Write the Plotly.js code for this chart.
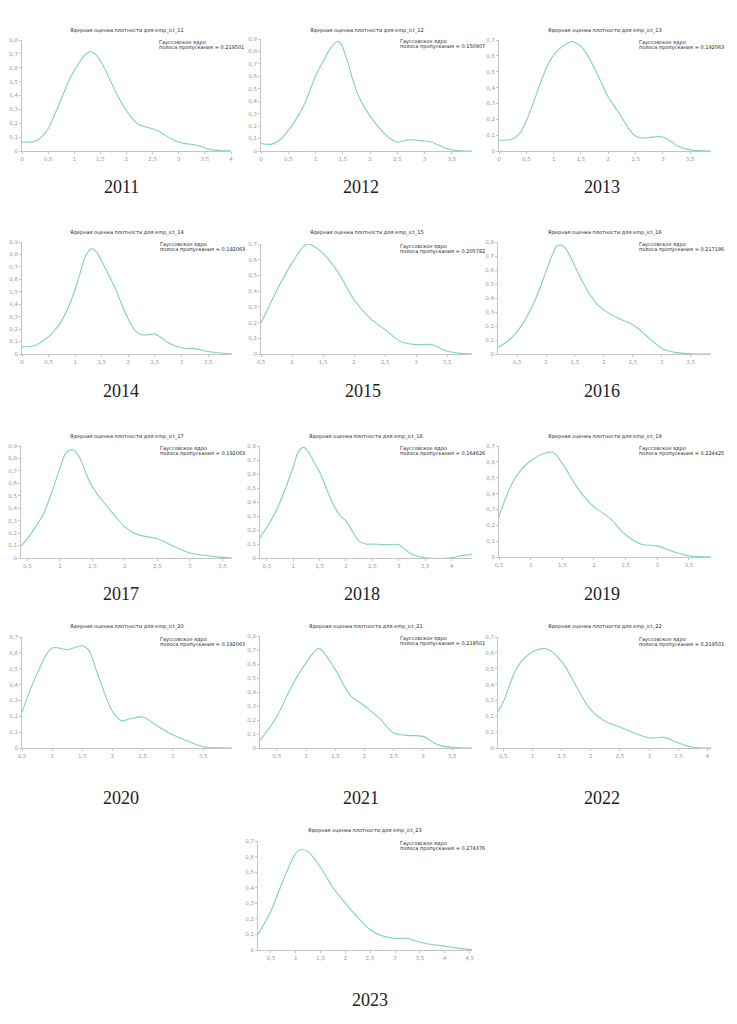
<!DOCTYPE html>
<html>
<head>
<meta charset="utf-8">
<script src="https://cdn.plot.ly/plotly-3.0.1.min.js"></script>
<style>html,body{margin:0;padding:0;background:#fff;}#chart{width:737px;height:1024px;}</style>
</head>
<body>
<div id="chart"></div>
<script>
// ---------- data ----------
const years = ['2011','2012','2013','2014','2015','2016','2017','2018','2019','2020','2021','2022','2023'];
const variables = ['emp_ict_11','emp_ict_12','emp_ict_13','emp_ict_14','emp_ict_15','emp_ict_16','emp_ict_17','emp_ict_18','emp_ict_19','emp_ict_20','emp_ict_21','emp_ict_22','emp_ict_23'];
const bandwidths = ['0.219501','0.150907','0.192063','0.192063','0.205782','0.217186','0.192063','0.164626','0.224425','0.192063','0.219501','0.219501','0.274376'];
const yTop = [0.8,0.9,0.7,0.9,0.7,0.8,0.9,0.8,0.7,0.7,0.8,0.7,0.7];
const xMin = [0,0,0,0,0.5,0.17,0.4,0.37,0.5,0.5,0.21,0.41,0.24];
const xMax = [4,3.87,3.88,3.95,3.9,3.85,3.65,4.39,3.85,3.98,3.84,4.06,4.55];

const x2011 = [0,0.2,0.3,0.4,0.5,0.6,0.7,0.8,0.9,1.0,1.1,1.2,1.3,1.4,1.5,1.6,1.7,1.8,1.9,2.0,2.1,2.2,2.3,2.4,2.5,2.6,2.7,2.8,2.9,3.0,3.1,3.2,3.3,3.4,3.5,3.6,3.7,3.8,3.9,4.0];
const y2011 = [0.065,0.066,0.08,0.11,0.16,0.24,0.33,0.42,0.51,0.58,0.64,0.69,0.715,0.70,0.65,0.58,0.50,0.42,0.35,0.29,0.24,0.20,0.18,0.17,0.16,0.145,0.125,0.10,0.08,0.065,0.055,0.05,0.045,0.035,0.022,0.012,0.006,0.002,0.001,0.0];

const x2012 = [0,0.2,0.35,0.5,0.65,0.8,1.0,1.2,1.3,1.4,1.45,1.5,1.6,1.7,1.8,2.0,2.2,2.4,2.5,2.6,2.75,2.9,3.0,3.1,3.25,3.4,3.5,3.6,3.87];
const y2012 = [0.06,0.055,0.09,0.165,0.26,0.38,0.60,0.77,0.84,0.88,0.87,0.83,0.70,0.55,0.43,0.28,0.17,0.09,0.07,0.08,0.09,0.085,0.08,0.075,0.05,0.02,0.01,0.004,0];

const x2013 = [0,0.25,0.375,0.5,0.625,0.75,0.875,1.0,1.125,1.25,1.35,1.5,1.625,1.75,1.875,2.0,2.125,2.25,2.375,2.5,2.625,2.75,2.875,3.0,3.125,3.25,3.5,3.88];
const y2013 = [0.068,0.075,0.11,0.19,0.30,0.42,0.53,0.605,0.65,0.68,0.69,0.66,0.60,0.52,0.43,0.34,0.275,0.21,0.14,0.095,0.082,0.085,0.09,0.088,0.065,0.035,0.007,0];

const x2014 = [0,0.25,0.5,0.625,0.75,0.875,1.0,1.1,1.2,1.3,1.4,1.5,1.625,1.75,1.875,2.0,2.125,2.25,2.375,2.5,2.625,2.75,3.0,3.25,3.5,3.95];
const y2014 = [0.056,0.07,0.14,0.195,0.27,0.38,0.52,0.66,0.79,0.845,0.82,0.745,0.64,0.53,0.40,0.28,0.19,0.155,0.155,0.16,0.13,0.09,0.05,0.043,0.02,0];

const x2015 = [0.5,0.75,1.0,1.25,1.5,1.75,2.0,2.25,2.5,2.75,3.0,3.25,3.5,3.75,3.9];
const y2015 = [0.197,0.40,0.58,0.70,0.64,0.515,0.345,0.23,0.155,0.08,0.06,0.06,0.017,0.003,0];

const x2016 = [0.17,0.35,0.5,0.625,0.75,0.875,1.0,1.1,1.2,1.3,1.4,1.5,1.625,1.75,1.875,2.0,2.25,2.5,2.625,2.75,2.875,3.0,3.25,3.5,3.85];
const y2016 = [0.048,0.095,0.16,0.235,0.33,0.45,0.59,0.70,0.775,0.77,0.71,0.625,0.52,0.43,0.36,0.315,0.255,0.21,0.17,0.125,0.08,0.04,0.01,0.002,0];

const x2017 = [0.4,0.5,0.625,0.75,0.875,1.0,1.1,1.2,1.3,1.4,1.5,1.625,1.75,1.875,2.0,2.125,2.25,2.5,2.75,3.0,3.25,3.5,3.65];
const y2017 = [0.095,0.155,0.25,0.36,0.53,0.72,0.85,0.87,0.81,0.68,0.57,0.48,0.40,0.32,0.25,0.205,0.18,0.155,0.095,0.04,0.02,0.005,0];

const x2018 = [0.37,0.5,0.625,0.75,0.875,1.0,1.1,1.2,1.3,1.4,1.5,1.625,1.75,1.875,2.0,2.125,2.25,2.375,2.5,2.75,3.0,3.125,3.25,3.5,4.0,4.2,4.39];
const y2018 = [0.143,0.22,0.30,0.40,0.52,0.65,0.76,0.79,0.75,0.68,0.615,0.50,0.39,0.31,0.265,0.19,0.12,0.10,0.10,0.095,0.095,0.06,0.026,0.002,0.002,0.017,0.026];

const x2019 = [0.5,0.75,1.0,1.25,1.35,1.5,1.75,2.0,2.25,2.5,2.75,3.0,3.25,3.5,3.85];
const y2019 = [0.254,0.495,0.607,0.658,0.66,0.59,0.43,0.317,0.245,0.14,0.08,0.07,0.034,0.008,0];

const x2020 = [0.5,0.75,1.0,1.25,1.5,1.6,1.75,2.0,2.15,2.25,2.5,2.75,3.0,3.25,3.5,3.75,3.98];
const y2020 = [0.225,0.47,0.63,0.62,0.645,0.62,0.47,0.23,0.172,0.18,0.195,0.137,0.084,0.042,0.008,0.001,0];

const x2021 = [0.21,0.5,0.75,1.0,1.2,1.25,1.5,1.75,2.0,2.25,2.5,2.75,3.0,3.25,3.5,3.84];
const y2021 = [0.055,0.225,0.44,0.61,0.71,0.705,0.56,0.38,0.30,0.215,0.107,0.09,0.083,0.024,0.005,0];

const x2022 = [0.41,0.5,0.75,1.0,1.25,1.5,1.75,2.0,2.25,2.5,2.75,3.0,3.25,3.5,3.75,4.06];
const y2022 = [0.23,0.29,0.515,0.605,0.624,0.546,0.39,0.24,0.168,0.132,0.095,0.063,0.067,0.032,0.004,0];

const x2023 = [0.24,0.5,0.75,1.0,1.1,1.25,1.5,1.75,2.0,2.25,2.5,2.75,3.0,3.25,3.5,3.75,4.0,4.25,4.5,4.55];
const y2023 = [0.10,0.25,0.45,0.62,0.645,0.63,0.53,0.40,0.30,0.21,0.13,0.09,0.075,0.075,0.05,0.035,0.025,0.012,0.003,0.001];

const xs = [x2011,x2012,x2013,x2014,x2015,x2016,x2017,x2018,x2019,x2020,x2021,x2022,x2023];
const ys = [y2011,y2012,y2013,y2014,y2015,y2016,y2017,y2018,y2019,y2020,y2021,y2022,y2023];

// ---------- layout geometry (pixels) ----------
const W = 737, H = 1024;
// [left, right, top, bottom] of each plot area
const boxes = [
  [22,231,40,151],[261,472,39,151],[499,711,40,151],
  [22,232,242,354],[261,472,244,354],[498,711,242,354],
  [21,232,446,558],[260,472,446,558],[499,711,446,557],
  [22,232,637,748],[260,472,636,748],[498,711,637,748],
  [258,472,841,950]
];
const titleY = [30,30,30,232,232,232,436,436,436,626,626,626,830];
const yearPos = [[121,187],[361,187],[602,187],[121,391],[363,391],[602,391],[121,594],[362,594],[602,594],[121,798],[361,798],[602,798],[370,1000]];

const lineColor = 'rgb(125,212,182)';
const px = v => v / W;
const py = v => 1 - v / H;

const traces = [];
const layout = {
  width: W, height: H,
  margin: {l:0, r:0, t:0, b:0},
  paper_bgcolor: '#fff', plot_bgcolor: '#fff',
  showlegend: false,
  separators: ', ',
  annotations: []
};

years.forEach((yr, i) => {
  const n = i === 0 ? '' : String(i + 1);
  const b = boxes[i];
  traces.push({
    x: xs[i], y: ys[i], type: 'scatter', mode: 'lines',
    xaxis: 'x' + n, yaxis: 'y' + n,
    line: {color: lineColor, width: 1.1, shape: 'spline', smoothing: 1},
    hoverinfo: 'skip'
  });
  const axCommon = {
    showline: true, linecolor: '#c4c4c4', linewidth: 1,
    ticks: 'outside', ticklen: 2, tickwidth: 1, tickcolor: '#c4c4c4',
    showgrid: false, zeroline: false,
    tickfont: {family: 'DejaVu Sans', size: 5.5, color: '#9a9a9a'},
    fixedrange: true
  };
  layout['xaxis' + n] = Object.assign({}, axCommon, {
    domain: [px(b[0]), px(b[1])],
    range: [xMin[i], xMax[i]],
    tick0: 0, dtick: 0.5,
    anchor: 'y' + n
  });
  layout['yaxis' + n] = Object.assign({}, axCommon, {
    domain: [py(b[3]), py(b[2])],
    range: [0, yTop[i]],
    tick0: 0, dtick: 0.1,
    anchor: 'x' + n
  });
  layout.annotations.push({
    xref: 'paper', yref: 'paper', x: px((b[0] + b[1]) / 2), y: py(titleY[i]),
    xanchor: 'center', yanchor: 'middle', showarrow: false,
    text: 'Ядерная оценка плотности для ' + variables[i],
    font: {family: 'DejaVu Sans', size: 5, color: '#222'}
  });
  layout.annotations.push({
    xref: 'paper', yref: 'paper', x: px(b[1] - 74), y: py(b[2] + 2.5),
    xanchor: 'left', yanchor: 'middle', showarrow: false,
    text: 'Гауссовское ядро',
    font: {family: 'DejaVu Sans', size: 5, color: '#222'}
  });
  layout.annotations.push({
    xref: 'paper', yref: 'paper', x: px(b[1] - 74), y: py(b[2] + 7),
    xanchor: 'left', yanchor: 'middle', showarrow: false,
    text: 'полоса пропускания = ' + bandwidths[i],
    font: {family: 'DejaVu Sans', size: 5, color: '#222'}
  });
  layout.annotations.push({
    xref: 'paper', yref: 'paper', x: px(yearPos[i][0]), y: py(yearPos[i][1]),
    xanchor: 'center', yanchor: 'middle', showarrow: false,
    text: yr,
    font: {family: 'Liberation Serif', size: 18, color: '#222'}
  });
});

Plotly.newPlot('chart', traces, layout, {staticPlot: true, displayModeBar: false});
</script>
</body>
</html>
